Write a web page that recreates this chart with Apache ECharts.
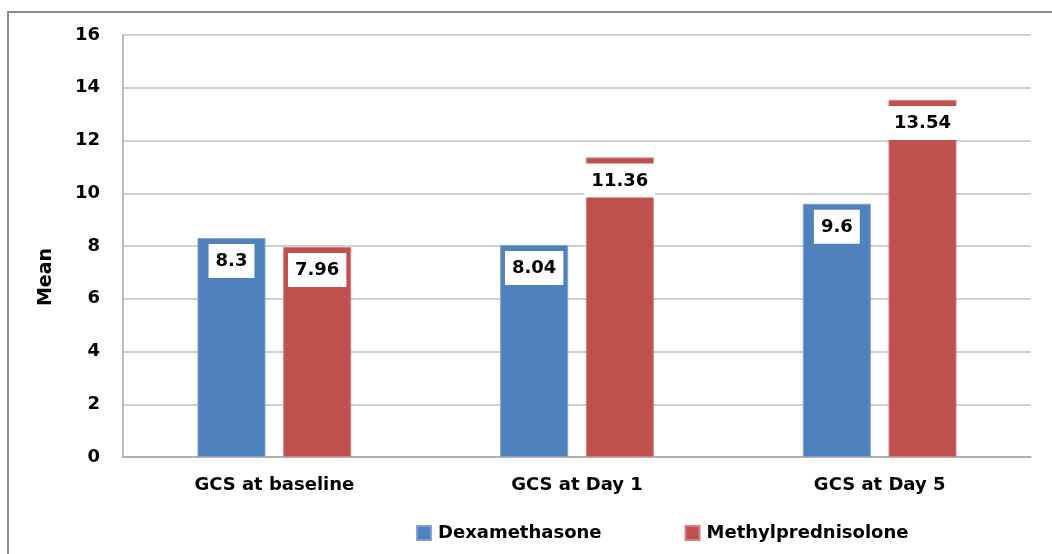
<!DOCTYPE html>
<html>
<head>
<meta charset="utf-8">
<script src="https://cdn.jsdelivr.net/npm/echarts@6/dist/echarts.min.js"></script>
<style>
html,body{margin:0;padding:0;background:#fff;}
#chart{width:1052px;height:554px;}
</style>
</head>
<body>
<div id="chart"></div>
<script>
const categories = ['GCS at baseline', 'GCS at Day 1', 'GCS at Day 5'];
const dexamethasone = [8.3, 8.04, 9.6];
const methylprednisolone = [7.96, 11.36, 13.54];
const seriesNames = ['Dexamethasone', 'Methylprednisolone'];
const yTicks = { min: 0, max: 16, interval: 2 };
const yAxisTitle = 'Mean';

const FONT = '"DejaVu Sans", sans-serif';
const chart = echarts.init(document.getElementById('chart'), null, { renderer: 'canvas' });

const labelStyle = {
  show: true,
  position: 'insideTop',
  distance: 6,
  backgroundColor: '#fff',
  padding: [8, 7, 7, 7],
  color: '#000',
  fontFamily: FONT,
  fontWeight: 'bold',
  fontSize: 18,
  lineHeight: 19
};

chart.setOption({
  animation: false,
  backgroundColor: '#fff',
  graphic: [
    {
      type: 'rect',
      shape: { x: 8, y: 12, width: 1100, height: 600 },
      style: { fill: 'none', stroke: '#8c8c8c', lineWidth: 2 },
      silent: true
    },
    {
      type: 'text',
      x: 46, y: 277,
      rotation: Math.PI / 2,
      style: {
        text: yAxisTitle,
        fontFamily: FONT, fontWeight: 'bold', fontSize: 19,
        fill: '#000', align: 'center', verticalAlign: 'middle'
      }
    }
  ],
  legend: {
    data: seriesNames,
    left: 411,
    top: 519,
    icon: 'rect',
    itemWidth: 14,
    itemHeight: 14,
    itemGap: 83,
    textStyle: { fontFamily: FONT, fontWeight: 'bold', fontSize: 18, color: '#000', padding: [0, 0, 0, 2] }
  },
  grid: { left: 123, right: 21, top: 35, bottom: 97, containLabel: false },
  xAxis: {
    type: 'category',
    data: categories,
    axisLine: { lineStyle: { color: '#a6a6a6', width: 1.5 } },
    axisTick: { show: false },
    axisLabel: { margin: 19, fontFamily: FONT, fontWeight: 'bold', fontSize: 18, color: '#000' }
  },
  yAxis: {
    type: 'value',
    min: yTicks.min, max: yTicks.max, interval: yTicks.interval,
    axisLine: { show: true, lineStyle: { color: '#a6a6a6', width: 1.5 } },
    axisTick: { show: false },
    splitLine: { lineStyle: { color: '#bfbfbf', width: 1.5 } },
    axisLabel: { margin: 23, fontFamily: FONT, fontWeight: 'bold', fontSize: 18, color: '#000' }
  },
  series: [
    {
      name: seriesNames[0],
      type: 'bar',
      data: dexamethasone,
      barWidth: 68,
      barGap: '26%',
      itemStyle: { color: '#4f81bd', borderColor: '#7ea1cf', borderWidth: 1 },
      label: labelStyle
    },
    {
      name: seriesNames[1],
      type: 'bar',
      data: methylprednisolone,
      barWidth: 68,
      barGap: '26%',
      itemStyle: { color: '#c0504d', borderColor: '#d3807e', borderWidth: 1 },
      label: labelStyle
    }
  ]
});
</script>
</body>
</html>
